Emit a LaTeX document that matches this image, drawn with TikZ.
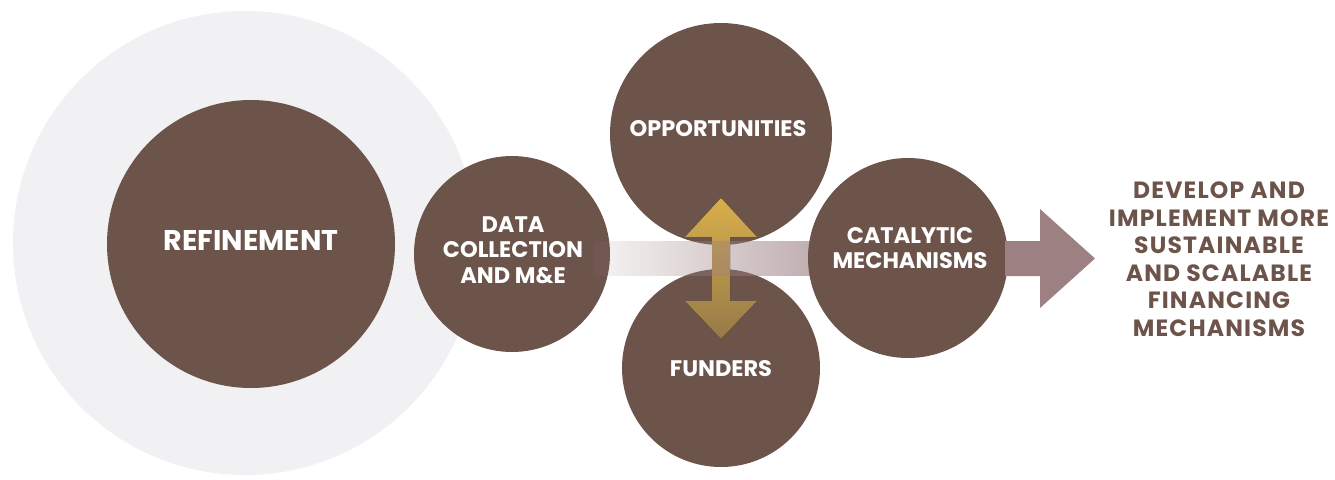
\documentclass[tikz,border=0pt]{standalone}
\usepackage{fontspec}
\setmainfont{Poppins}
\usetikzlibrary{fadings}
\definecolor{circbrown}{RGB}{108,84,75}
\definecolor{haloc}{RGB}{241,241,243}
\definecolor{mauve}{RGB}{156,128,130}
\definecolor{goldtop}{RGB}{216,175,76}
\definecolor{goldbot}{RGB}{150,121,72}
\definecolor{textbrown}{RGB}{108,84,75}
\tikzfading[name=bandfade, left color=transparent!92, right color=transparent!0]
\begin{document}
\begin{tikzpicture}[x=1pt,y=-1pt,
  disc/.style={circle, fill=circbrown, inner sep=0pt, minimum size=#1},
  lbl/.style={text=white, align=center, inner sep=0pt, font=\bfseries\fontsize{22.5}{25.5}\selectfont},
]
\path[use as bounding box] (0,0) rectangle (1335,479);
% halo and circles
\node[circle, fill=haloc, inner sep=0pt, minimum size=464pt] (halo) at (245,243) {};
\node[disc=288pt] (refine) at (251,244) {};
\node[disc=196pt] (data) at (512,254) {};
\node[disc=222pt] (opp) at (721,134) {};
\node[disc=198pt] (fund) at (721,368) {};
% gold double arrow
\coordinate (gtop) at (721,198);
\coordinate (gbot) at (721,339);
\fill[top color=goldtop, bottom color=goldbot]
  (gtop) -- ++(36,39) -- ++(-27,0) -- ++(0,64) -- ++(27,0) -- (gbot)
  -- ++(-36,-38) -- ++(27,0) -- ++(0,-64) -- ++(-27,0) -- cycle;
% faded band
\coordinate (bandstart) at (593,258.5);
\fill[mauve, path fading=bandfade] ([yshift=17.5pt]bandstart) rectangle (960,276);
% catalytic circle
\node[disc=200pt] (cat) at (908,258) {};
% solid arrow
\coordinate (tip) at (1095,258.5);
\fill[mauve] (1005,241) -- (1040,241) -- (1040,209) -- (tip) -- (1040,308) -- (1040,276) -- (1005,276) -- cycle;
% labels
\node[lbl, font=\bfseries\fontsize{28.5}{32}\selectfont] (refinelbl) at (251,240) {REFINEMENT};
\node[lbl] (datalbl) at (513,250) {DATA\\COLLECTION\\AND M\&E};
\node[lbl] (opplbl) at (718,129) {OPPORTUNITIES};
\node[lbl] (fundlbl) at (721,369) {FUNDERS};
\node[lbl] (catlbl) at (910,248) {CATALYTIC\\MECHANISMS};
\node[align=center, inner sep=0pt, text=textbrown, font=\bfseries\fontsize{23.5}{27.5}\selectfont\addfontfeatures{LetterSpace=5}] (goal) at (1219,259)
  {DEVELOP AND\\IMPLEMENT MORE\\SUSTAINABLE\\AND SCALABLE\\FINANCING\\MECHANISMS};
\end{tikzpicture}
\end{document}
